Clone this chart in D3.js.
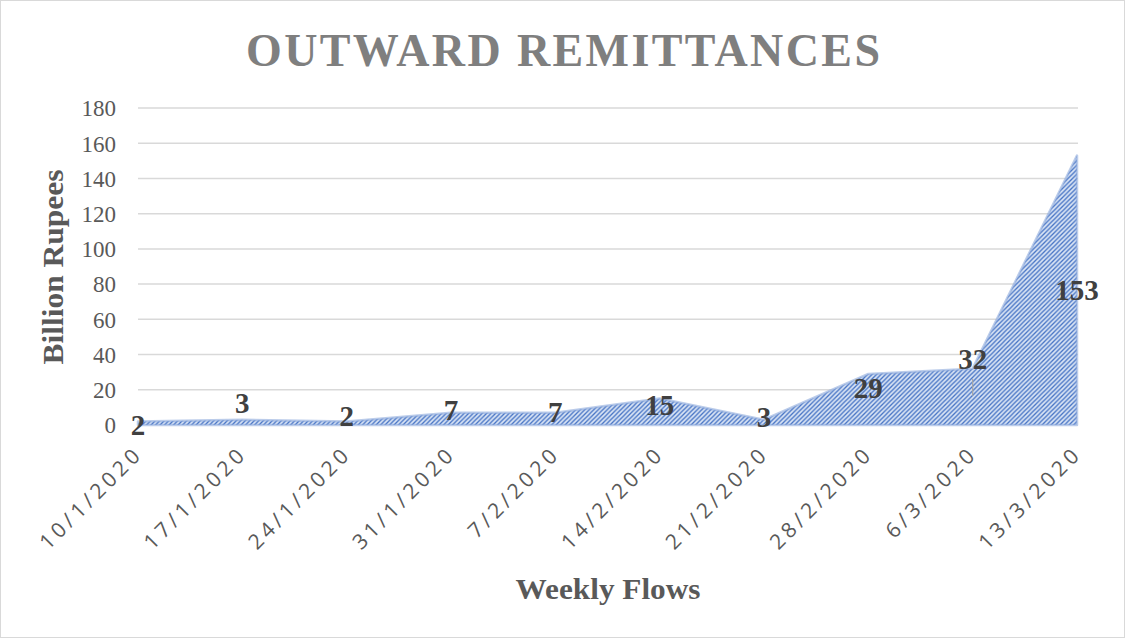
<!DOCTYPE html>
<html lang="en">
<head>
  <meta charset="UTF-8">
  <title>Outward Remittances</title>
  <script src="https://d3js.org/d3.v7.min.js"></script>
  <style>
    body, html { margin: 0; padding: 0; background: #fff; }
    svg { display: block; }
  </style>
</head>
<body>
  <svg width="1126" height="640"></svg>
  <script>
    // chart data
    const weeks = ["10/1/2020", "17/1/2020", "24/1/2020", "31/1/2020", "7/2/2020",
                   "14/2/2020", "21/2/2020", "28/2/2020", "6/3/2020", "13/3/2020"];
    const flows = [2, 3, 2, 7, 7, 15, 3, 29, 32, 153];
    const yTicks = [0, 20, 40, 60, 80, 100, 120, 140, 160, 180];

    // label nudges (px, relative to the point) - mimics where Excel dropped them
    const labelDy = [3, -17, -6, -3, -1, 6, -3, 14, -10, null];

    const svg = d3.select("svg"),
          width = +svg.attr("width"),
          height = +svg.attr("height");

    const serif = "'Liberation Serif', 'DejaVu Serif', serif";
    const sans = "'Open Sans', 'Noto Sans', sans-serif";

    // outer frame
    svg.append("rect")
      .attr("x", 0.5).attr("y", 0.5)
      .attr("width", width - 2).attr("height", height - 3)
      .attr("fill", "#fff").attr("stroke", "#d9d9d9");

    const x = d3.scalePoint().domain(weeks).range([138, 1077]);
    const y = d3.scaleLinear().domain([0, 180]).range([425, 108]);

    // hatch pattern
    const defs = svg.append("defs");
    const pat = defs.append("pattern")
      .attr("id", "hatch")
      .attr("patternUnits", "userSpaceOnUse")
      .attr("width", 4.5).attr("height", 4.5);
    pat.append("rect").attr("width", 4.5).attr("height", 4.5).attr("fill", "#d8e3f4");
    pat.append("path")
      .attr("d", "M-1,1 l2,-2 M0,4.5 l4.5,-4.5 M3.5,5.5 l2,-2")
      .attr("stroke", "#4472c4").attr("stroke-width", 1.3);

    // gridlines
    svg.append("g")
      .selectAll("line")
      .data(yTicks.slice(1))
      .join("line")
      .attr("x1", 138).attr("x2", 1078)
      .attr("y1", d => y(d)).attr("y2", d => y(d))
      .attr("stroke", "#d9d9d9").attr("stroke-width", 1.5);

    // y axis labels
    const yAxis = svg.append("g")
      .attr("transform", "translate(116,0)")
      .call(d3.axisLeft(y).tickValues(yTicks).tickSize(0).tickPadding(0));
    yAxis.select(".domain").remove();
    yAxis.selectAll("text")
      .attr("font-family", serif).attr("font-size", 23)
      .attr("fill", "#595959").attr("dy", "0.34em");

    // area
    const area = d3.area()
      .x((d, i) => x(weeks[i]))
      .y0(y(0))
      .y1(d => y(d));

    svg.append("path")
      .datum(flows)
      .attr("d", area)
      .attr("fill", "url(#hatch)")
      .attr("stroke", "#8eaadc")
      .attr("stroke-opacity", 0.6)
      .attr("stroke-width", 2.5)
      .attr("stroke-linejoin", "round");

    // small leader tick under the 32 label
    svg.append("line")
      .attr("x1", x("6/3/2020")).attr("x2", x("6/3/2020"))
      .attr("y1", y(32) + 10).attr("y2", y(32) + 27)
      .attr("stroke", "#a6a6a6").attr("stroke-width", 1.2);

    // data labels
    svg.append("g")
      .selectAll("text")
      .data(flows)
      .join("text")
      .attr("x", (d, i) => x(weeks[i]))
      .attr("y", (d, i) => labelDy[i] === null ? y(d / 2) : y(d) + labelDy[i])
      .attr("dy", "0.35em")
      .attr("text-anchor", "middle")
      .attr("font-family", serif).attr("font-weight", "bold")
      .attr("font-size", 29).attr("fill", "#404040")
      .text(d => d);

    // x axis labels, rotated
    svg.append("g")
      .selectAll("text")
      .data(weeks)
      .join("text")
      .attr("transform", d => `translate(${x(d) + 6},${y(0) + 30}) rotate(-45)`)
      .attr("text-anchor", "end")
      .attr("font-family", sans).attr("font-size", 21)
      .attr("letter-spacing", 4)
      .attr("fill", "#595959")
      .text(d => d);

    // title
    svg.append("text")
      .attr("x", 563).attr("y", 66)
      .attr("text-anchor", "middle")
      .attr("font-family", serif).attr("font-weight", "bold")
      .attr("font-size", 46).attr("fill", "#7f7f7f")
      .attr("textLength", 634).attr("lengthAdjust", "spacing")
      .text("OUTWARD REMITTANCES");

    // axis titles
    svg.append("text")
      .attr("transform", "translate(63,267) rotate(-90)")
      .attr("text-anchor", "middle")
      .attr("font-family", serif).attr("font-weight", "bold")
      .attr("font-size", 30).attr("fill", "#595959")
      .attr("textLength", 195).attr("lengthAdjust", "spacingAndGlyphs")
      .text("Billion Rupees");

    svg.append("text")
      .attr("x", 608).attr("y", 599)
      .attr("text-anchor", "middle")
      .attr("font-family", serif).attr("font-weight", "bold")
      .attr("font-size", 30).attr("fill", "#595959")
      .attr("textLength", 185).attr("lengthAdjust", "spacingAndGlyphs")
      .text("Weekly Flows");
  </script>
</body>
</html>
